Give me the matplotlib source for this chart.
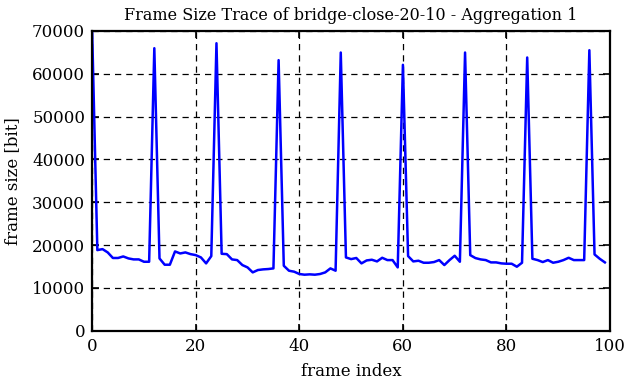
import matplotlib
matplotlib.use("Agg")
import matplotlib.pyplot as plt

# frame sizes [bit], frames 0..99
frame_size = [
    69800, 18840, 19070, 18300, 17000, 17000, 17360, 16900, 16670, 16670,
    16120, 16120, 65970, 16900, 15430, 15430, 18530, 18060, 18300, 17900,
    17670, 17130, 15740, 17440, 67130, 17980, 17900, 16670, 16510, 15350,
    14800, 13640, 14190, 14340, 14420, 14570, 63180, 15190, 14030, 13800,
    13260, 13100, 13180, 13100, 13260, 13640, 14570, 14030, 64960, 17130,
    16740, 17000, 15740, 16430, 16590, 16200, 17050, 16510, 16510, 14800,
    62090, 17440, 16200, 16360, 15890, 15890, 16050, 16510, 15350, 16510,
    17520, 16120, 64960, 17670, 16980, 16670, 16510, 15970, 15970, 15740,
    15660, 15660, 14960, 15890, 63800, 16820, 16510, 16050, 16510, 15890,
    16120, 16510, 17050, 16510, 16510, 16510, 65500, 17830, 16820, 15970,
]
frame_index = list(range(len(frame_size)))

x_ticks = [0, 20, 40, 60, 80, 100]
y_ticks = [0, 10000, 20000, 30000, 40000, 50000, 60000, 70000]

plt.rcParams['font.family'] = ['DejaVu Serif']
plt.rcParams['font.size'] = 12

fig = plt.figure(figsize=(6.27, 3.82), dpi=100)
ax = fig.add_axes([0.147, 0.134, 0.826, 0.785])

ax.plot(frame_index, frame_size, color='#0000ff', linewidth=1.8)

ax.set_xlim(0, 100)
ax.set_ylim(0, 70000)
ax.set_xticks(x_ticks)
ax.set_yticks(y_ticks)
ax.grid(True, color='black', linestyle=(0, (5, 4)), linewidth=0.9)
ax.tick_params(direction='in', length=5, width=1.2, top=True, right=True,
               labelsize=12, pad=5)
for s in ax.spines.values():
    s.set_linewidth(1.6)

ax.set_title('Frame Size Trace of bridge-close-20-10 - Aggregation 1', fontsize=11.5, pad=8)
ax.set_xlabel('frame index', labelpad=6)
ax.set_ylabel('frame size [bit]', labelpad=8)

fig.savefig('out.png', dpi=100)
